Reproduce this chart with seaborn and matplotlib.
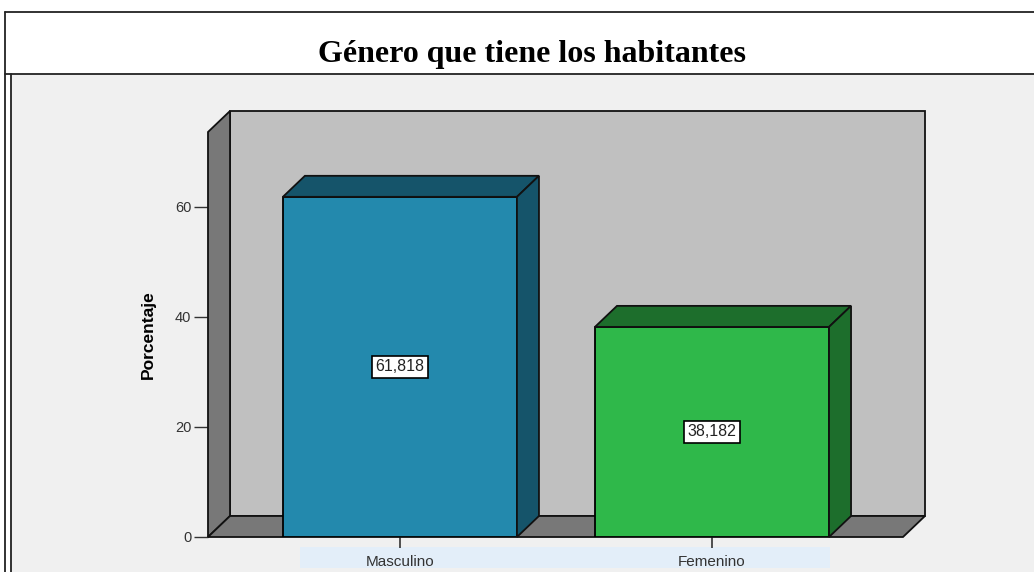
import matplotlib
matplotlib.use("Agg")
import matplotlib.pyplot as plt
import seaborn as sns
import pandas as pd
from matplotlib.patches import Polygon, Rectangle
from matplotlib.lines import Line2D

# datos
categorias = ["Masculino", "Femenino"]
porcentajes = [61.818, 38.182]
etiquetas = ["61,818", "38,182"]
titulo = "Género que tiene los habitantes"
eje_y = "Porcentaje"
ticks_y = [0, 20, 40, 60]

# colores (cara frontal, caras laterales)
COL_FRENTE = ["#2389ad", "#2fb84a"]
COL_LADO = ["#15546a", "#1d6e2c"]
FONDO = "#f0f0f0"
PARED = "#c0c0c0"
PARED_OSCURA = "#787878"

W, H = 1034, 572
sns.set_theme(style="white")
plt.rcParams["font.family"] = ["Liberation Sans", "DejaVu Sans"]

fig = plt.figure(figsize=(W / 100, H / 100), dpi=100)
fig.patch.set_facecolor("white")

# marco exterior y franja del título
fondo = Rectangle((11 / W, 0), 1, (572 - 74) / H, transform=fig.transFigure,
                  facecolor=FONDO, edgecolor="none", zorder=-10)
fig.patches.append(fondo)
for xs, ys in [([5, W], [12, 12]), ([5, W], [74, 74]), ([5, 5], [12, H]), ([11, 11], [74, H])]:
    fig.lines.append(Line2D([x / W for x in xs], [1 - y / H for y in ys],
                            transform=fig.transFigure, color="#222222", lw=1.3, zorder=-5))
fig.text(532 / W, 1 - 62 / H, titulo, ha="center", va="baseline", fontsize=23,
         fontweight="bold", family="Liberation Serif", color="black")

ax = fig.add_axes([208 / W, 35 / H, 695 / W, 405 / H])
ax.set_facecolor("none")

df = pd.DataFrame({"cat": categorias, "pct": porcentajes})
sns.barplot(data=df, x="cat", y="pct", order=categorias, hue="cat",
            palette=dict(zip(categorias, COL_FRENTE)), width=0.75, saturation=1,
            edgecolor="black", linewidth=1.3, legend=False, ax=ax, zorder=5)

xmin, xmax = -0.615, 1.612
ytop = 73.6
ax.set_xlim(xmin, xmax)
ax.set_ylim(0, ytop)

# profundidad 3D en unidades de datos
dx = 22 / 312
dy = 21 / 5.5

kw = dict(edgecolor="#111111", lw=1.3, clip_on=False, joinstyle="miter")
ax.add_patch(Polygon([(xmin + dx, dy), (xmax + dx, dy), (xmax + dx, ytop + dy), (xmin + dx, ytop + dy)],
                     facecolor=PARED, zorder=1, **kw))
ax.add_patch(Polygon([(xmin, 0), (xmin, ytop), (xmin + dx, ytop + dy), (xmin + dx, dy)],
                     facecolor=PARED_OSCURA, zorder=2, **kw))
ax.add_patch(Polygon([(xmin, 0), (xmax, 0), (xmax + dx, dy), (xmin + dx, dy)],
                     facecolor=PARED_OSCURA, zorder=2, **kw))

for i, p in enumerate(ax.patches[:len(categorias)]):
    x0, w, h = p.get_x(), p.get_width(), p.get_height()
    ax.add_patch(Polygon([(x0, h), (x0 + w, h), (x0 + w + dx, h + dy), (x0 + dx, h + dy)],
                         facecolor=COL_LADO[i], zorder=6, **kw))
    ax.add_patch(Polygon([(x0 + w, 0), (x0 + w + dx, dy), (x0 + w + dx, h + dy), (x0 + w, h)],
                         facecolor=COL_LADO[i], zorder=6, **kw))
    ax.text(x0 + w / 2, h / 2, etiquetas[i], ha="center", va="center", fontsize=11.5,
            color="#222222", zorder=8,
            bbox=dict(boxstyle="square,pad=0.22", facecolor="white", edgecolor="black", lw=1.2))

# franja resaltada de etiquetas del eje x
ax.add_patch(Rectangle((0.132, -0.0765), 0.763, 0.052, transform=ax.transAxes,
                       facecolor="#e3eef9", edgecolor="none", clip_on=False, zorder=0))

for s in ax.spines.values():
    s.set_visible(False)
ax.set_yticks(ticks_y)
ax.set_yticklabels([str(t) for t in ticks_y], fontsize=10.5, color="#333333")
ax.tick_params(axis="y", left=True, length=10, width=1, color="#333333", pad=2)
ax.tick_params(axis="x", bottom=True, length=8, width=1.2, color="#333333", pad=5,
               labelsize=11, labelcolor="#333333")
ax.set_xlabel("")
ax.set_ylabel(eje_y, fontsize=12.5, fontweight="bold", labelpad=14, color="black")

fig.savefig("out.png", dpi=100, facecolor=fig.get_facecolor())
